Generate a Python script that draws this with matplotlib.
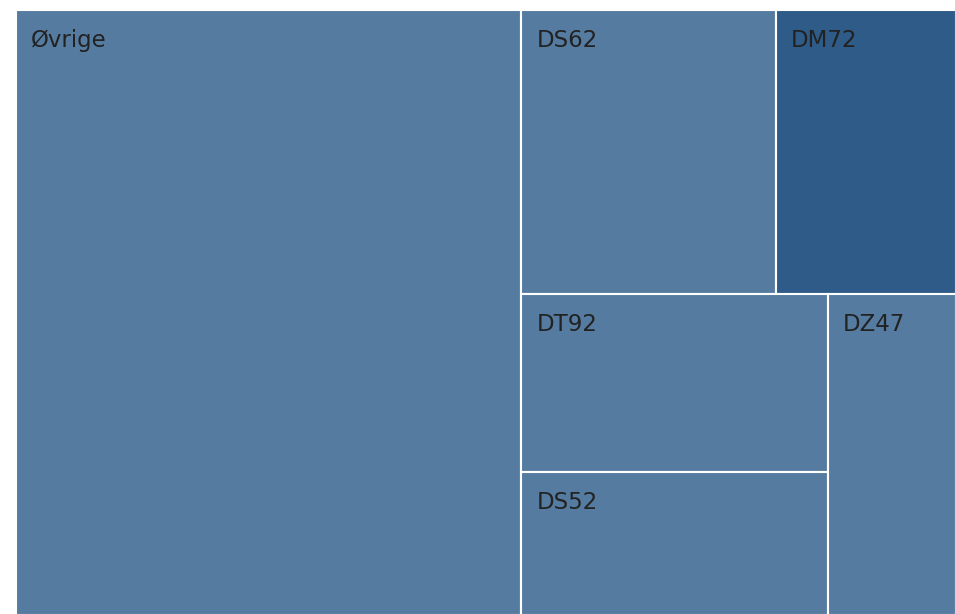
import matplotlib
matplotlib.use('Agg')
import matplotlib.pyplot as plt
from matplotlib.patches import Rectangle

# ── data ─────────────────────────────────────────────────────────────────────

labels = ['Øvrige', 'DS62', 'DM72', 'DT92', 'DS52', 'DZ47']
values = [53.7, 12.7, 9.0, 9.6, 7.7, 7.2]
colors = ['#557ca0', '#557ca0', '#2e5b88', '#557ca0', '#557ca0', '#557ca0']

W, H = 940.0, 605.0
PHI = (1 + 5 ** 0.5) / 2


# ── squarified layout (same rule as d3 treemapSquarify) ──────────────────────

def squarify(vals, x0, y0, x1, y1, ratio=PHI):
    out = [None] * len(vals)
    total = sum(vals)
    i0 = 0
    n = len(vals)
    while i0 < n:
        dx, dy = x1 - x0, y1 - y0
        i1 = i0 + 1
        s = vals[i0]
        vmin = vmax = s
        alpha = max(dy / dx, dx / dy) / (total * ratio)
        beta = s * s * alpha
        best = max(vmax / beta, beta / vmin)
        while i1 < n:
            v = vals[i1]
            s2 = s + v
            mn, mx = min(vmin, v), max(vmax, v)
            beta = s2 * s2 * alpha
            r = max(mx / beta, beta / mn)
            if r > best:
                break
            s, vmin, vmax, best = s2, mn, mx, r
            i1 += 1
        if dx < dy:
            h = dy * s / total
            x = x0
            for k in range(i0, i1):
                w = dx * vals[k] / s
                out[k] = (x, y0, w, h)
                x += w
            y0 += h
        else:
            w = dx * s / total
            y = y0
            for k in range(i0, i1):
                h = dy * vals[k] / s
                out[k] = (x0, y, w, h)
                y += h
            x0 += w
        total -= s
        i0 = i1
    return out


rects = squarify(values, 0, 0, W, H)

fig = plt.figure(figsize=(9.55, 6.14), dpi=100)
# the tile area runs one pixel past the right and bottom edges, so the
# white borders there fall outside the picture
ax = fig.add_axes([16 / 955, -1 / 614, W / 955, H / 614])
ax.set_xlim(0, W)
ax.set_ylim(H, 0)
ax.axis('off')

for (x, y, w, h), lab, c in zip(rects, labels, colors):
    ax.add_patch(Rectangle((x, y), w, h, facecolor=c, edgecolor='white',
                           linewidth=1.5, clip_on=False))
    ax.text(x + 15, y + 19, lab, fontsize=16.5, color='#222222',
            ha='left', va='top', family='DejaVu Sans')

fig.savefig('out.png', dpi=100)
